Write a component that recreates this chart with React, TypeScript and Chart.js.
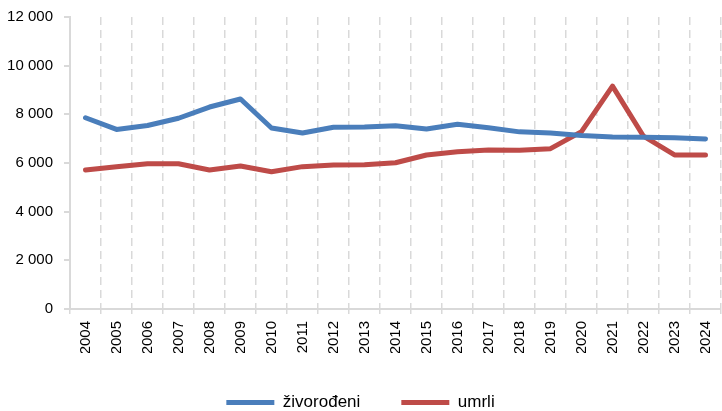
import React, { useEffect, useRef } from "react";
import { Chart, registerables } from "chart.js";

Chart.register(...registerables);

const years = ["2004","2005","2006","2007","2008","2009","2010","2011","2012","2013","2014","2015","2016","2017","2018","2019","2020","2021","2022","2023","2024"];
const zivorodeni = [7860, 7380, 7540, 7840, 8300, 8630, 7440, 7230, 7470, 7480, 7530, 7400, 7590, 7450, 7280, 7230, 7130, 7070, 7060, 7040, 6990];
const umrli = [5710, 5850, 5970, 5970, 5710, 5880, 5640, 5850, 5920, 5930, 6010, 6330, 6460, 6530, 6520, 6590, 7290, 9160, 7100, 6330, 6330];
const seriesNames = ["živorođeni", "umrli"];
const yMin = 0;
const yMax = 12000;
const yStep = 2000;

const fmt = (v: number) => String(v).replace(/\B(?=(\d{3})+(?!\d))/g, " ");

export default function App() {
  const ref = useRef<HTMLCanvasElement | null>(null);
  useEffect(() => {
    document.body.style.margin = "0";
    const ctx = ref.current!;
    const font = "'Liberation Sans', Arial, sans-serif";
    const chart = new Chart(ctx, {
      type: "line",
      data: {
        labels: years,
        datasets: [
          {
            label: seriesNames[0],
            data: zivorodeni,
            borderColor: "#4A7EBB",
            backgroundColor: "#4A7EBB",
            borderWidth: 5,
            pointRadius: 0,
            borderCapStyle: "round",
            borderJoinStyle: "round",
            tension: 0,
          },
          {
            label: seriesNames[1],
            data: umrli,
            borderColor: "#BE4B48",
            backgroundColor: "#BE4B48",
            borderWidth: 5,
            pointRadius: 0,
            borderCapStyle: "round",
            borderJoinStyle: "round",
            tension: 0,
          },
        ],
      },
      options: {
        responsive: false,
        animation: false,
        layout: { padding: { top: 17, right: 1, left: 0, bottom: -10 } },
        plugins: {
          tooltip: { enabled: false },
          legend: {
            position: "bottom",
            labels: {
              usePointStyle: true,
              pointStyle: "line",
              pointStyleWidth: 48,
              padding: 41,
              color: "#000",
              font: { family: font, size: 17 },
            },
          },
        },
        scales: {
          x: {
            offset: true,
            grid: {
              offset: true,
              display: true,
              color: "#D9D9D9",
              lineWidth: 1.5,
              tickLength: 5,
              tickColor: "#D9D9D9",
              tickBorderDash: [],
            },
            border: { display: true, color: "#D9D9D9", width: 2, dash: [8, 5] },
            ticks: {
              minRotation: 90,
              maxRotation: 90,
              padding: 7,
              color: "#000",
              font: { family: font, size: 15 },
              autoSkip: false,
            },
            afterFit: (scale: any) => {
              scale.height = 44;
              scale.paddingLeft = 0;
              scale.paddingRight = 0;
            },
          },
          y: {
            min: yMin,
            max: yMax,
            grid: {
              drawOnChartArea: false,
              drawTicks: true,
              tickLength: 6,
              color: "#D9D9D9",
              lineWidth: 2,
            },
            border: { display: true, color: "#D9D9D9", width: 2 },
            ticks: {
              stepSize: yStep,
              padding: 11,
              color: "#000",
              font: { family: font, size: 15 },
              callback: (v: any) => fmt(Number(v)),
            },
            afterFit: (scale: any) => {
              scale.width = 70;
              scale.paddingTop = 0;
              scale.paddingBottom = 0;
            },
          },
        },
      },
    } as any);
    return () => chart.destroy();
  }, []);
  return (
    <div style={{ position: "absolute", left: 0, top: 0, width: 722, height: 411 }}>
      <canvas ref={ref} width={722} height={411} style={{ display: "block" }} />
    </div>
  );
}
